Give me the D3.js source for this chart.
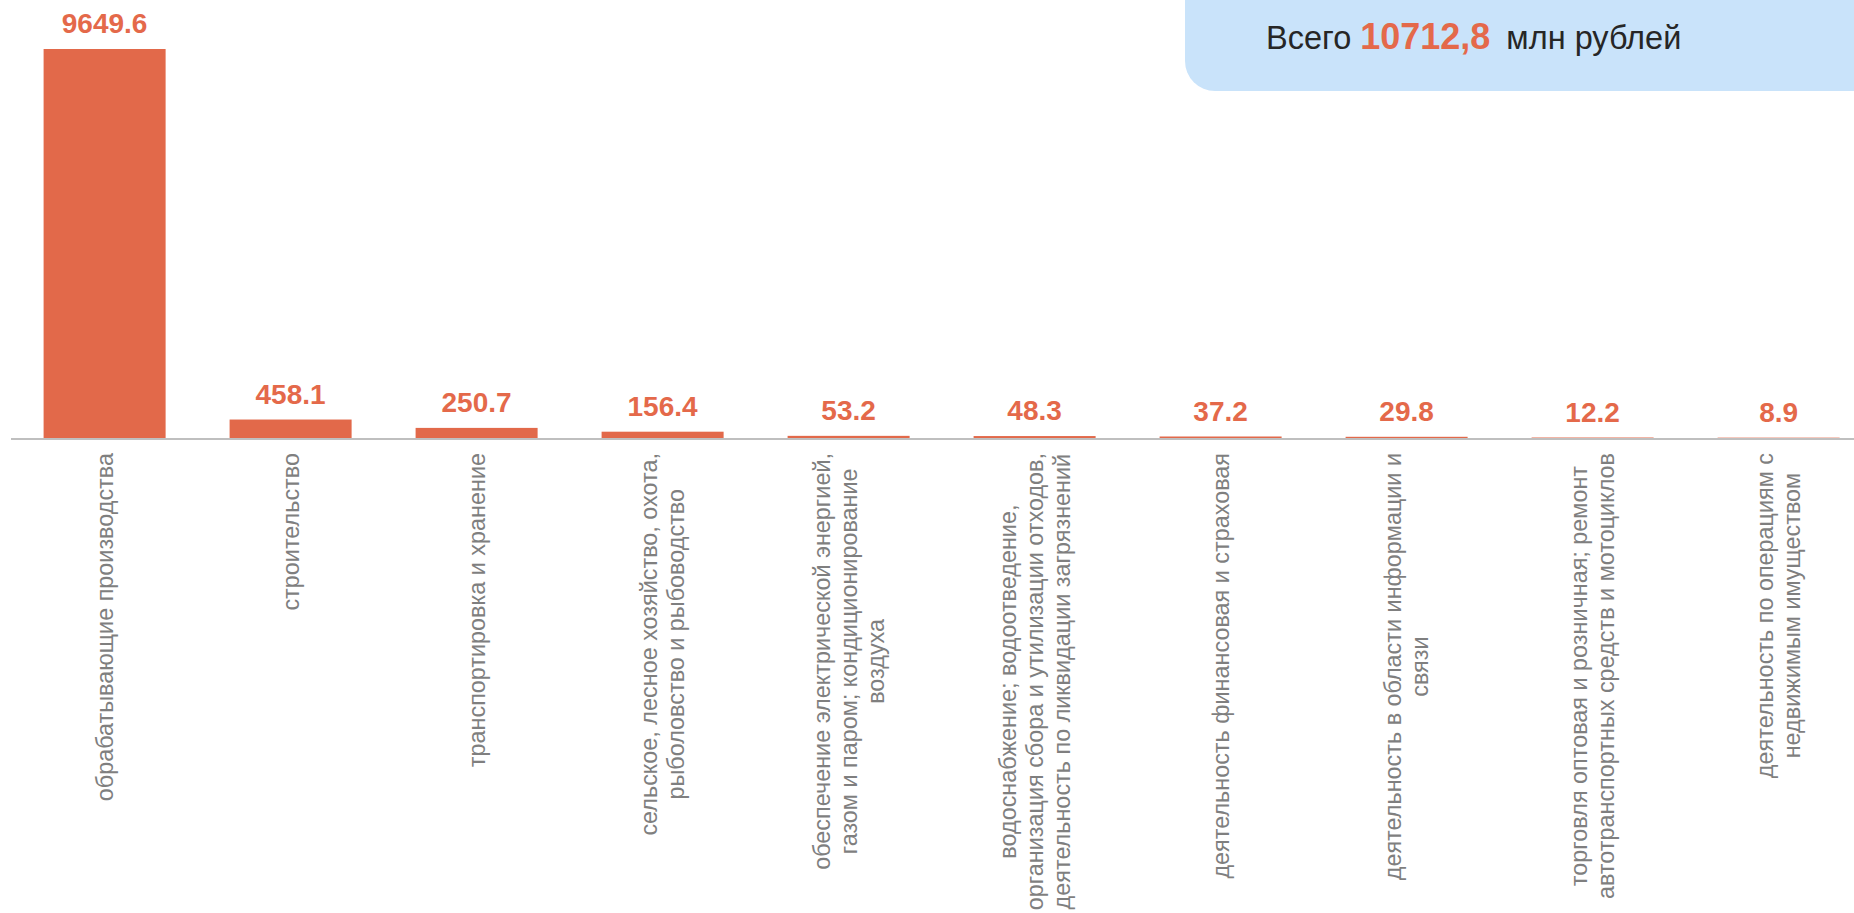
<!DOCTYPE html>
<html>
<head>
<meta charset="utf-8">
<script src="https://cdn.jsdelivr.net/npm/d3@7"></script>
<style>
  html, body { margin: 0; padding: 0; background: #fff; }
  svg { display: block; font-family: "Liberation Sans", Arial, sans-serif; }
</style>
</head>
<body>
<svg id="chart" width="1854" height="913"></svg>
<script>
// categories (line breaks as in the source chart)
const categories = [
    'обрабатывающие производства',
    'строительство',
    'транспортировка и хранение',
    'сельское, лесное хозяйство, охота,\nрыболовство и рыбоводство',
    'обеспечение электрической энергией,\nгазом и паром; кондиционирование\nвоздуха',
    'водоснабжение; водоотведение,\nорганизация сбора и утилизации отходов,\nдеятельность по ликвидации загрязнений',
    'деятельность финансовая и страховая',
    'деятельность в области информации и\nсвязи',
    'торговля оптовая и розничная; ремонт\nавтотранспортных средств и мотоциклов',
    'деятельность по операциям с\nнедвижимым имуществом'
];
const values = [9649.6, 458.1, 250.7, 156.4, 53.2, 48.3, 37.2, 29.8, 12.2, 8.9];
const totalLabel = ['Всего', '10712,8', 'млн рублей'];

const barColor = '#E2694A';
const labelColor = '#E4694A';
const axisColor = '#BFBFBF';
const textColor = '#7F7F7F';

const svg = d3.select('#chart');
const baseline = 438;

const x = d3.scaleBand()
    .domain(categories.map((d, i) => i))
    .range([11.6, 1871.6])
    .paddingInner(0.344)
    .paddingOuter(0.172);

const y = d3.scaleLinear()
    .domain([0, 9649.6])
    .range([baseline, 49]);

// total box in the upper right corner
const box = svg.append('g');
box.append('rect')
    .attr('x', 1185)
    .attr('y', -40)
    .attr('width', 720)
    .attr('height', 131)
    .attr('rx', 30)
    .attr('fill', '#C9E3FA');

const totalText = box.append('text')
    .attr('x', 1266)
    .attr('y', 49)
    .attr('font-size', '32.5px')
    .attr('fill', '#262626');
totalText.append('tspan').text(totalLabel[0]);
totalText.append('tspan')
    .attr('dx', 9)
    .attr('font-weight', 'bold')
    .attr('font-size', '36px')
    .attr('fill', labelColor)
    .text(totalLabel[1]);
totalText.append('tspan').attr('dx', 16).text(totalLabel[2]);

// bars
svg.append('g')
    .selectAll('rect')
    .data(values)
    .enter()
    .append('rect')
    .attr('x', (d, i) => x(i))
    .attr('width', x.bandwidth())
    .attr('y', d => y(d))
    .attr('height', d => baseline - y(d))
    .attr('fill', barColor);

// axis line
const xAxis = d3.axisBottom(x).tickSize(0).tickFormat('');
const axisG = svg.append('g')
    .attr('transform', `translate(0,${baseline + 1})`)
    .call(xAxis);
axisG.select('.domain')
    .attr('d', 'M11,0H1854')
    .attr('stroke', axisColor)
    .attr('stroke-width', 2);

// value labels
svg.append('g')
    .selectAll('text')
    .data(values)
    .enter()
    .append('text')
    .attr('x', (d, i) => x(i) + x.bandwidth() / 2)
    .attr('y', d => y(d) - 16)
    .attr('text-anchor', 'middle')
    .attr('font-size', '28px')
    .attr('font-weight', 'bold')
    .attr('fill', labelColor)
    .text(d => d3.format('.1f')(d));

// rotated category labels, lines centred inside each block
const lineHeight = 27;
const catGroups = svg.append('g')
    .selectAll('g')
    .data(categories)
    .enter()
    .append('g')
    .attr('transform', (d, i) => `translate(${x(i) + x.bandwidth() / 2},453) rotate(-90)`);

catGroups.each(function(d) {
    const g = d3.select(this);
    const lines = d.split('\n');
    const texts = lines.map((line, j) => g.append('text')
        .attr('y', (j - (lines.length - 1) / 2) * lineHeight)
        .attr('dy', '0.35em')
        .attr('text-anchor', 'middle')
        .attr('font-size', '23.4px')
        .attr('fill', textColor)
        .text(line));
    const maxW = d3.max(texts, t => t.node().getComputedTextLength());
    texts.forEach(t => t.attr('x', -maxW / 2));
});
</script>
</body>
</html>
